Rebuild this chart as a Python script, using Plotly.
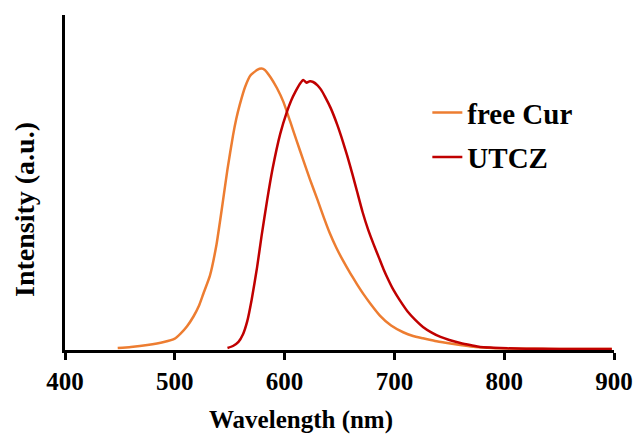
import plotly.graph_objects as go

# free Cur emission spectrum (wavelength nm, normalized intensity)
cur_wl = [448, 460, 475, 490, 500, 505, 511, 517, 522, 526, 532, 538, 541, 544, 548, 553, 556, 559, 564, 569, 575, 579, 582, 587, 593, 599, 605, 611, 617, 623, 630, 636, 641, 647, 653, 660, 666, 672, 678, 687, 697, 708, 717, 726, 737, 748, 760, 772, 785, 796, 815, 840, 870, 898]
cur_int = [0.006, 0.009, 0.015, 0.024, 0.034, 0.048, 0.070, 0.100, 0.132, 0.168, 0.222, 0.315, 0.380, 0.448, 0.540, 0.640, 0.690, 0.730, 0.785, 0.820, 0.836, 0.840, 0.836, 0.815, 0.782, 0.740, 0.683, 0.624, 0.567, 0.510, 0.448, 0.393, 0.350, 0.306, 0.268, 0.228, 0.196, 0.166, 0.139, 0.102, 0.073, 0.053, 0.042, 0.035, 0.027, 0.021, 0.015, 0.010, 0.007, 0.005, 0.004, 0.003, 0.003, 0.003]

# UTCZ emission spectrum
utcz_wl = [548, 553, 558, 562, 566, 570, 575, 579, 584, 589, 596, 602, 606, 610, 614, 617, 620, 623, 626, 630, 633, 637, 642, 648, 653, 657, 662, 666, 671, 676, 681, 686, 690, 695, 699, 705, 712, 719, 726, 734, 742, 750, 760, 770, 778, 790, 803, 820, 850, 880, 898]
utcz_int = [0.006, 0.012, 0.024, 0.046, 0.086, 0.150, 0.248, 0.340, 0.445, 0.540, 0.645, 0.710, 0.745, 0.772, 0.795, 0.806, 0.798, 0.802, 0.800, 0.790, 0.778, 0.755, 0.722, 0.672, 0.623, 0.580, 0.522, 0.473, 0.412, 0.360, 0.316, 0.275, 0.242, 0.206, 0.180, 0.148, 0.115, 0.090, 0.069, 0.052, 0.039, 0.030, 0.021, 0.014, 0.009, 0.007, 0.005, 0.004, 0.003, 0.003, 0.003]

x_ticks = [400, 500, 600, 700, 800, 900]

FONT = "Liberation Serif"

fig = go.Figure()
fig.add_trace(go.Scatter(x=cur_wl, y=cur_int, mode="lines", name="<b>free Cur</b>", legendgroup="a",
                         line=dict(color="#ED7D31", width=2.5, shape="spline", smoothing=0.5)))
fig.add_trace(go.Scatter(x=utcz_wl, y=utcz_int, mode="lines", name="<b>UTCZ</b>", legendgroup="b",
                         line=dict(color="#C00000", width=2.5, shape="spline", smoothing=0.5)))

fig.update_layout(
    template="none",
    width=638, height=441,
    margin=dict(l=65, r=24, t=15, b=91, pad=0),
    paper_bgcolor="white", plot_bgcolor="white",
    font=dict(family=FONT, color="black", size=24),
    showlegend=True,
    legend=dict(x=0.66, y=0.785, xanchor="left", yanchor="top",
                font=dict(family=FONT, size=29, color="black"),
                bgcolor="rgba(0,0,0,0)", borderwidth=0, itemwidth=30,
                traceorder="grouped", tracegroupgap=4),
    xaxis=dict(range=[400, 900], tickvals=x_ticks, ticktext=[f"<b>{v}</b>" for v in x_ticks],
               showgrid=False, zeroline=False, showline=True, linecolor="black", linewidth=3,
               ticks="outside", ticklen=7, tickwidth=3, tickcolor="black", automargin=False,
               tickfont=dict(family=FONT, size=25, color="black")),
    yaxis=dict(range=[0, 1], showgrid=False, zeroline=False, showline=True, linecolor="black",
               linewidth=3, showticklabels=False, ticks="", automargin=False),
    annotations=[
        dict(text="<b>Wavelength (nm)</b>", xref="paper", yref="paper", x=(301 - 65) / 549, y=(350 - 420) / 335,
             xanchor="center", yanchor="middle", showarrow=False, font=dict(family=FONT, size=25)),
        dict(text="<b>Intensity (a.u.)</b>", xref="paper", yref="paper", x=(24 - 65) / 549, y=(350 - 210) / 335,
             xanchor="center", yanchor="middle", textangle=-90, showarrow=False,
             font=dict(family=FONT, size=28)),
    ],
)

fig.write_html("out.html")
